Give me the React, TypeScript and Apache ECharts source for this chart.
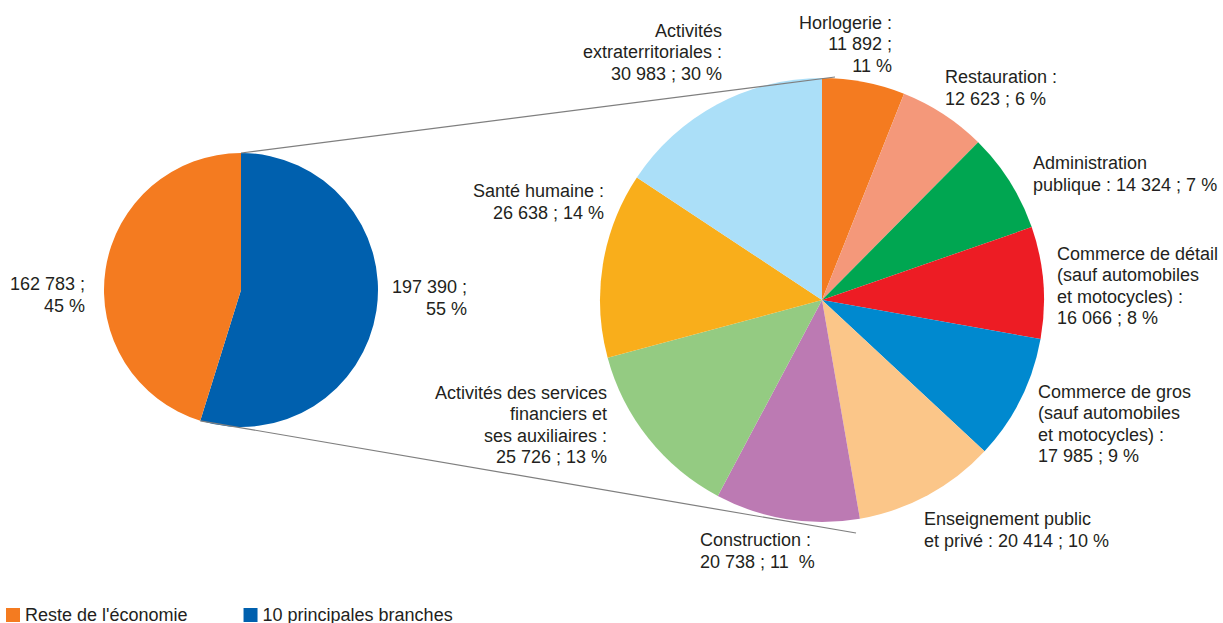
import React, { useEffect, useRef } from "react";
import * as echarts from "echarts";

// ---- Data ----
const leftNames = ["10 principales branches", "Reste de l'économie"];
const leftValues = [197390, 162783];
const leftPcts = [55, 45];
const leftTemplates = ["{v} ;\n{p} %", "{v} ;\n{p} %"];

const rightNames = [
  "Horlogerie",
  "Restauration",
  "Administration publique",
  "Commerce de détail (sauf automobiles et motocycles)",
  "Commerce de gros (sauf automobiles et motocycles)",
  "Enseignement public et privé",
  "Construction",
  "Activités des services financiers et ses auxiliaires",
  "Santé humaine",
  "Activités extraterritoriales",
];
const rightValues = [11892, 12623, 14324, 16066, 17985, 20414, 20738, 25726, 26638, 30983];
const rightPcts = [11, 6, 7, 8, 9, 10, 11, 13, 14, 30];
const rightTemplates = [
  "Horlogerie :\n{v} ;\n{p} %",
  "Restauration :\n{v} ; {p} %",
  "Administration\npublique : {v} ; {p} %",
  "Commerce de détail\n(sauf automobiles\net motocycles) :\n{v} ; {p} %",
  "Commerce de gros\n(sauf automobiles\net motocycles) :\n{v} ; {p} %",
  "Enseignement public\net privé : {v} ; {p} %",
  "Construction :\n{v} ; {p}  %",
  "Activités des services\nfinanciers et\nses auxiliaires :\n{v} ; {p} %",
  "Santé humaine :\n{v} ; {p} %",
  "Activités\nextraterritoriales :\n{v} ; {p} %",
];

// ---- Styles / layout ----
const leftColors = ["#0060AE", "#F47B20"];
const rightColors = [
  "#F47B20", "#F4987A", "#00A651", "#ED1C24", "#0089CF",
  "#FBC689", "#BC7AB3", "#94CB82", "#F9AE1B", "#ABDFF8",
];
const TEXT = "#231F20";
const FONT = "'Liberation Sans', Arial, sans-serif";

const L_CX = 241, L_CY = 290, L_R = 137;
const R_CX = 822, R_CY = 300, R_R = 222;

const leftLabelPos: [number, number, string][] = [
  [467, 298, "right"],
  [85, 295, "right"],
];
const rightLabelPos: [number, number, string][] = [
  [892, 44, "right"],
  [945, 88, "left"],
  [1033, 174, "left"],
  [1057, 286, "left"],
  [1038, 424, "left"],
  [924, 530, "left"],
  [700, 551, "left"],
  [607, 425, "right"],
  [604, 202, "right"],
  [722, 52, "right"],
];

const fmt = (v: number) => String(v).replace(/\B(?=(\d{3})+(?!\d))/g, " ");
const fill = (t: string, v: number, p: number) => t.replace("{v}", fmt(v)).replace("{p}", String(p));

export default function App() {
  const ref = useRef<HTMLDivElement>(null);
  useEffect(() => {
    document.body.style.margin = "0";
    if (!ref.current) return;
    const chart = echarts.init(ref.current, null, { renderer: "svg" });

    // connector line geometry derived from the pies
    const total = leftValues.reduce((a, b) => a + b, 0);
    const endAng = (leftValues[0] / total) * Math.PI * 2; // clockwise from top
    const lTop = [L_CX, L_CY - L_R];
    const lBot = [L_CX + L_R * Math.sin(endAng), L_CY - L_R * Math.cos(endAng)];
    const rTop = [R_CX + 13, R_CY - R_R - 1];
    const rBot = [R_CX + 34, R_CY + R_R + 11];

    const mkLabel = (positions: [number, number, string][]) => (params: any) => {
      const p = positions[params.dataIndex];
      return { x: p[0], y: p[1], align: p[2], verticalAlign: "middle" };
    };

    chart.setOption({
      animation: false,
      textStyle: { fontFamily: FONT },
      legend: {
        data: [leftNames[1], leftNames[0]],
        left: 6,
        top: 606,
        padding: 0,
        itemWidth: 14,
        itemHeight: 14,
        itemGap: 56,
        icon: "rect",
        selectedMode: false,
        textStyle: { fontSize: 18, color: TEXT, fontFamily: FONT },
      },
      series: [
        {
          type: "pie",
          center: [L_CX, L_CY],
          radius: L_R,
          startAngle: 90,
          clockwise: true,
          avoidLabelOverlap: false,
          data: leftNames.map((n, i) => ({
            name: n,
            value: leftValues[i],
            itemStyle: { color: leftColors[i] },
            label: { formatter: fill(leftTemplates[i], leftValues[i], leftPcts[i]) },
          })),
          label: {
            show: true,
            position: "outside",
            fontSize: 18,
            lineHeight: 21.5,
            color: TEXT,
            fontFamily: FONT,
          },
          labelLine: { show: false },
          labelLayout: mkLabel(leftLabelPos),
          emphasis: { disabled: true },
        },
        {
          type: "pie",
          center: [R_CX, R_CY],
          radius: R_R,
          startAngle: 90,
          clockwise: true,
          avoidLabelOverlap: false,
          data: rightNames.map((n, i) => ({
            name: n,
            value: rightValues[i],
            itemStyle: { color: rightColors[i] },
            label: { formatter: fill(rightTemplates[i], rightValues[i], rightPcts[i]) },
          })),
          label: {
            show: true,
            position: "outside",
            fontSize: 18,
            lineHeight: 21.5,
            color: TEXT,
            fontFamily: FONT,
          },
          labelLine: { show: false },
          labelLayout: mkLabel(rightLabelPos),
          emphasis: { disabled: true },
        },
      ],
      graphic: [
        {
          type: "line",
          z: 100,
          shape: { x1: lTop[0], y1: lTop[1], x2: rTop[0], y2: rTop[1] },
          style: { stroke: "#7F7F7F", lineWidth: 1.2 },
        },
        {
          type: "line",
          z: 100,
          shape: { x1: lBot[0], y1: lBot[1], x2: rBot[0], y2: rBot[1] },
          style: { stroke: "#7F7F7F", lineWidth: 1.2 },
        },
      ],
    });
    return () => chart.dispose();
  }, []);
  return <div ref={ref} style={{ width: 1223, height: 623 }} />;
}
